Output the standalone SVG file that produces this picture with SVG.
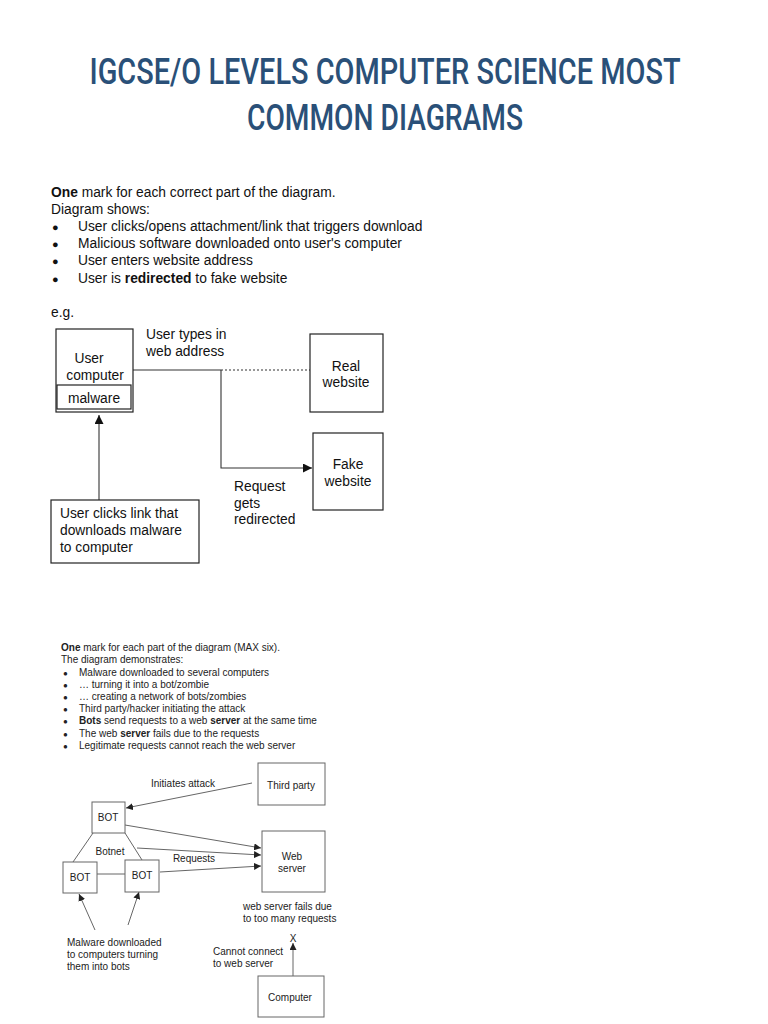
<svg xmlns="http://www.w3.org/2000/svg" width="768" height="1024" viewBox="0 0 768 1024">
<style>
.title{font-family:Roboto,"DejaVu Sans Condensed",sans-serif;font-size:36px;font-weight:500;fill:#2a5078}
.t1{font-family:"Liberation Sans",Arial,sans-serif;font-size:13.8px;fill:#111}
.t2{font-family:"Liberation Sans",Arial,sans-serif;font-size:10px;fill:#222}
.bu{font-size:11px}
.bu2{font-size:8px}
.box1{fill:#fff;stroke:#222;stroke-width:1.2}
.box2{fill:#fff;stroke:#666;stroke-width:1}
.ln1{fill:none;stroke:#333;stroke-width:1.1}
.ln2{fill:none;stroke:#666;stroke-width:1}
.b{font-weight:bold}
</style>
<defs>
<marker id="ah1" viewBox="0 0 10 10" refX="10" refY="5" markerWidth="9" markerHeight="9" markerUnits="userSpaceOnUse" orient="auto"><path d="M0,0 L10,5 L0,10 z" fill="#111"/></marker>
<marker id="ah2" viewBox="0 0 10 10" refX="10" refY="5" markerWidth="7" markerHeight="7" markerUnits="userSpaceOnUse" orient="auto"><path d="M0,0 L10,5 L0,10 z" fill="#222"/></marker>
</defs>
<rect width="768" height="1024" fill="#fff"/>
<text class="title" x="385" y="84" text-anchor="middle" textLength="591" lengthAdjust="spacingAndGlyphs">IGCSE/O LEVELS COMPUTER SCIENCE MOST</text>
<text class="title" x="385" y="130" text-anchor="middle" textLength="276" lengthAdjust="spacingAndGlyphs">COMMON DIAGRAMS</text>

<g id="marks1" class="t1">
<text x="51" y="197"><tspan class="b">One</tspan> mark for each correct part of the diagram.</text>
<text x="51" y="214">Diagram shows:</text>
<text x="52" y="231" class="bu">●</text><text x="78" y="231">User clicks/opens attachment/link that triggers download</text>
<text x="52" y="248" class="bu">●</text><text x="78" y="248">Malicious software downloaded onto user's computer</text>
<text x="52" y="265" class="bu">●</text><text x="78" y="265">User enters website address</text>
<text x="52" y="283" class="bu">●</text><text x="78" y="283">User is <tspan class="b">redirected</tspan> to fake website</text>
<text x="51" y="317">e.g.</text>
</g>

<g id="connectors1">
<path class="ln1" d="M131,370 H221"/>
<path class="ln1" d="M221,370 H310" stroke-dasharray="2,2"/>
<path class="ln1" d="M221,370 V468 H312" marker-end="url(#ah1)"/>
<path class="ln1" d="M99,500 V415" marker-end="url(#ah1)"/>
<text class="t1" x="146" y="339">User types in</text>
<text class="t1" x="146" y="356">web address</text>
<text class="t1" x="234" y="491">Request</text>
<text class="t1" x="234" y="508">gets</text>
<text class="t1" x="234" y="524">redirected</text>
</g>

<g id="user-computer">
<rect class="box1" x="56" y="329" width="77" height="83"/>
<text class="t1" x="89" y="363" text-anchor="middle">User</text>
<text class="t1" x="95" y="380" text-anchor="middle">computer</text>
</g>
<g id="malware">
<rect class="box1" x="57" y="385" width="74" height="24"/>
<text class="t1" x="94" y="403" text-anchor="middle">malware</text>
</g>
<g id="real-website">
<rect class="box1" x="310" y="334" width="73" height="78"/>
<text class="t1" x="346" y="371" text-anchor="middle">Real</text>
<text class="t1" x="346" y="387" text-anchor="middle">website</text>
</g>
<g id="fake-website">
<rect class="box1" x="313" y="433" width="70" height="77"/>
<text class="t1" x="348" y="469" text-anchor="middle">Fake</text>
<text class="t1" x="348" y="486" text-anchor="middle">website</text>
</g>
<g id="user-clicks">
<rect class="box1" x="51" y="500" width="148" height="63"/>
<text class="t1" x="60" y="518">User clicks link that</text>
<text class="t1" x="60" y="535">downloads malware</text>
<text class="t1" x="60" y="552">to computer</text>
</g>

<g id="marks2" class="t2">
<text x="61" y="651"><tspan class="b">One</tspan> mark for each part of the diagram (MAX six).</text>
<text x="61" y="663">The diagram demonstrates:</text>
<text x="63" y="676" class="bu2">●</text><text x="79" y="676">Malware downloaded to several computers</text>
<text x="63" y="688" class="bu2">●</text><text x="79" y="688">… turning it into a bot/zombie</text>
<text x="63" y="700" class="bu2">●</text><text x="79" y="700">… creating a network of bots/zombies</text>
<text x="63" y="712" class="bu2">●</text><text x="79" y="712">Third party/hacker initiating the attack</text>
<text x="63" y="724" class="bu2">●</text><text x="79" y="724"><tspan class="b">Bots</tspan> send requests to a web <tspan class="b">server</tspan> at the same time</text>
<text x="63" y="737" class="bu2">●</text><text x="79" y="737">The web <tspan class="b">server</tspan> fails due to the requests</text>
<text x="63" y="749" class="bu2">●</text><text x="79" y="749">Legitimate requests cannot reach the web server</text>
</g>

<g id="connectors2">
<path class="ln2" d="M252,783 L126,808" marker-end="url(#ah2)"/>
<path class="ln2" d="M93,833 L73,862"/>
<path class="ln2" d="M125,833 L142,860"/>
<path class="ln2" d="M97,874 H125"/>
<path class="ln2" d="M125,825 L261,848" marker-end="url(#ah2)"/>
<path class="ln2" d="M137,848 L261,855" marker-end="url(#ah2)"/>
<path class="ln2" d="M160,872 L261,866" marker-end="url(#ah2)"/>
<path class="ln2" d="M95,930 L79,894" marker-end="url(#ah2)"/>
<path class="ln2" d="M128,925 L139,892" marker-end="url(#ah2)"/>
<path class="ln2" d="M293,976 V943" marker-end="url(#ah2)"/>
<text class="t2" x="183" y="787" text-anchor="middle">Initiates attack</text>
<text class="t2" x="110" y="855" text-anchor="middle">Botnet</text>
<text class="t2" x="194" y="862" text-anchor="middle">Requests</text>
<text class="t2" x="67" y="946">Malware downloaded</text>
<text class="t2" x="67" y="958">to computers turning</text>
<text class="t2" x="67" y="970">them into bots</text>
<text class="t2" x="243" y="910">web server fails due</text>
<text class="t2" x="243" y="922">to too many requests</text>
<text class="t2" x="293" y="942" text-anchor="middle">X</text>
<text class="t2" x="213" y="955">Cannot connect</text>
<text class="t2" x="213" y="967">to web server</text>
</g>

<g id="third-party">
<rect class="box2" x="258" y="763" width="67" height="42"/>
<text class="t2" x="291" y="789" text-anchor="middle">Third party</text>
</g>
<g id="bot-top">
<rect class="box2" x="92" y="802" width="33" height="31"/>
<text class="t2" x="108" y="821" text-anchor="middle">BOT</text>
</g>
<g id="web-server">
<rect class="box2" x="262" y="831" width="63" height="61"/>
<text class="t2" x="292" y="860" text-anchor="middle">Web</text>
<text class="t2" x="292" y="872" text-anchor="middle">server</text>
</g>
<g id="bot-left">
<rect class="box2" x="63" y="862" width="34" height="31"/>
<text class="t2" x="80" y="881" text-anchor="middle">BOT</text>
</g>
<g id="bot-middle">
<rect class="box2" x="125" y="860" width="34" height="32"/>
<text class="t2" x="142" y="879" text-anchor="middle">BOT</text>
</g>
<g id="computer">
<rect class="box2" x="258" y="976" width="66" height="41"/>
<text class="t2" x="290" y="1001" text-anchor="middle">Computer</text>
</g>
</svg>
